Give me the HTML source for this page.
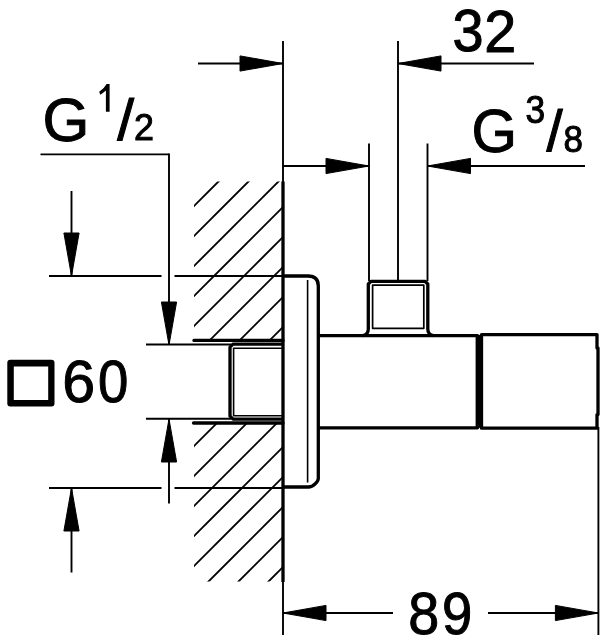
<!DOCTYPE html>
<html><head><meta charset="utf-8"><style>
html,body{margin:0;padding:0;background:#fff;width:610px;height:640px;overflow:hidden}
svg{display:block;will-change:transform}
text{font-family:"Liberation Sans",sans-serif;fill:#000}
</style></head><body>
<svg width="610" height="640" viewBox="0 0 610 640" stroke="#000" fill="none">
<line x1="283" y1="41" x2="283" y2="635" stroke-width="1.9" stroke-linecap="butt"/>
<line x1="283" y1="181.5" x2="283" y2="582" stroke-width="3.3" stroke-linecap="butt"/>
<line x1="398" y1="41" x2="398" y2="281" stroke-width="1.9" stroke-linecap="butt"/>
<line x1="198" y1="63.5" x2="283" y2="63.5" stroke-width="1.9" stroke-linecap="butt"/>
<polygon points="283,63.5 240,55.9 240,71.1" fill="#000" stroke="#000" stroke-width="1" stroke-linejoin="round"/>
<line x1="398" y1="63.5" x2="534" y2="63.5" stroke-width="1.9" stroke-linecap="butt"/>
<polygon points="398,63.5 441,55.9 441,71.1" fill="#000" stroke="#000" stroke-width="1" stroke-linejoin="round"/>
<line x1="369" y1="143.5" x2="369" y2="281" stroke-width="1.9" stroke-linecap="butt"/>
<line x1="427.5" y1="143.5" x2="427.5" y2="281" stroke-width="1.9" stroke-linecap="butt"/>
<line x1="283" y1="166" x2="369" y2="166" stroke-width="1.9" stroke-linecap="butt"/>
<polygon points="369,166 326,158.4 326,173.6" fill="#000" stroke="#000" stroke-width="1" stroke-linejoin="round"/>
<line x1="427.5" y1="166" x2="585" y2="166" stroke-width="1.9" stroke-linecap="butt"/>
<polygon points="427.5,166 470.5,158.4 470.5,173.6" fill="#000" stroke="#000" stroke-width="1" stroke-linejoin="round"/>
<line x1="40.5" y1="154.4" x2="169" y2="154.4" stroke-width="1.9" stroke-linecap="butt"/>
<line x1="169" y1="153.5" x2="169" y2="345" stroke-width="1.9" stroke-linecap="butt"/>
<polygon points="169,345 161.4,302 176.6,302" fill="#000" stroke="#000" stroke-width="1" stroke-linejoin="round"/>
<line x1="49" y1="276" x2="161.5" y2="276" stroke-width="1.9" stroke-linecap="butt"/>
<line x1="174.5" y1="276" x2="283" y2="276" stroke-width="1.9" stroke-linecap="butt"/>
<line x1="71.5" y1="191" x2="71.5" y2="276" stroke-width="1.9" stroke-linecap="butt"/>
<polygon points="71.5,276 63.9,233 79.1,233" fill="#000" stroke="#000" stroke-width="1" stroke-linejoin="round"/>
<line x1="146" y1="344.5" x2="231" y2="344.5" stroke-width="1.9" stroke-linecap="butt"/>
<line x1="146" y1="418.8" x2="231" y2="418.8" stroke-width="1.9" stroke-linecap="butt"/>
<line x1="169" y1="419" x2="169" y2="503.5" stroke-width="1.9" stroke-linecap="butt"/>
<polygon points="169,419 161.4,462 176.6,462" fill="#000" stroke="#000" stroke-width="1" stroke-linejoin="round"/>
<line x1="49" y1="488" x2="161.5" y2="488" stroke-width="1.9" stroke-linecap="butt"/>
<line x1="174.5" y1="488" x2="283" y2="488" stroke-width="1.9" stroke-linecap="butt"/>
<line x1="71.5" y1="488" x2="71.5" y2="572.5" stroke-width="1.9" stroke-linecap="butt"/>
<polygon points="71.5,488 63.9,531 79.1,531" fill="#000" stroke="#000" stroke-width="1" stroke-linejoin="round"/>
<line x1="598.4" y1="427" x2="598.4" y2="635" stroke-width="1.9" stroke-linecap="butt"/>
<line x1="283" y1="613" x2="393" y2="613" stroke-width="1.9" stroke-linecap="butt"/>
<polygon points="283,613 326,605.4 326,620.6" fill="#000" stroke="#000" stroke-width="1" stroke-linejoin="round"/>
<line x1="488" y1="613" x2="598.4" y2="613" stroke-width="1.9" stroke-linecap="butt"/>
<polygon points="598.4,613 555.4,605.4 555.4,620.6" fill="#000" stroke="#000" stroke-width="1" stroke-linejoin="round"/>
<defs><clipPath id="hc"><path d="M194,181.5 H283 V340.4 H194 Z M194,423 H283 V581.5 H194 Z"/></clipPath></defs>
<g clip-path="url(#hc)" stroke-width="1.9"><line x1="-300" y1="700" x2="400" y2="0"/><line x1="-270" y1="700" x2="430" y2="0"/><line x1="-240" y1="700" x2="460" y2="0"/><line x1="-210" y1="700" x2="490" y2="0"/><line x1="-180" y1="700" x2="520" y2="0"/><line x1="-150" y1="700" x2="550" y2="0"/><line x1="-120" y1="700" x2="580" y2="0"/><line x1="-90" y1="700" x2="610" y2="0"/><line x1="-60" y1="700" x2="640" y2="0"/><line x1="-30" y1="700" x2="670" y2="0"/><line x1="0" y1="700" x2="700" y2="0"/><line x1="30" y1="700" x2="730" y2="0"/><line x1="60" y1="700" x2="760" y2="0"/><line x1="90" y1="700" x2="790" y2="0"/><line x1="120" y1="700" x2="820" y2="0"/><line x1="150" y1="700" x2="850" y2="0"/></g>
<line x1="194" y1="340.4" x2="283" y2="340.4" stroke-width="3.3" stroke-linecap="round"/>
<line x1="193.5" y1="423" x2="283" y2="423" stroke-width="3.3" stroke-linecap="round"/>
<path d="M283,344.2 H233 L230,347.2 V416.2 L233,419.2 H283" fill="none" stroke-width="3.3" stroke-linejoin="round"/>
<path d="M283,348.2 H233.6 V415.7 H283" fill="none" stroke-width="1.6" stroke-linejoin="round"/>
<path d="M283,276 H308 Q318.3,276 318.3,286 V478.5 Q318.3,481 315,484 Q312,487 308.5,487 H283" fill="none" stroke-width="3.3" stroke-linejoin="round"/>
<line x1="307.6" y1="280" x2="307.6" y2="482.5" stroke-width="1.6" stroke-linecap="butt"/>
<path d="M318.3,335.6 H477.5 V427.8 H318.3" fill="none" stroke-width="3.3" stroke-linejoin="round"/>
<path d="M362.5,335.6 Q368.3,335 368.3,329 V284 L371,281.3 H425 L427.8,284 V329 Q427.8,335 433.6,335.6" fill="none" stroke-width="3.3" stroke-linejoin="round"/>
<path d="M372.6,285.2 H423.8 V328.3 H372.6 Z" fill="none" stroke-width="1.7" stroke-linejoin="round"/>
<path d="M481.5,334.6 H597 V348 H598 V414.6 H597 V428.2 H481.5 Z" fill="none" stroke-width="3.3" stroke-linejoin="round"/>
<line x1="479.3" y1="335" x2="479.3" y2="427.8" stroke-width="7.2" stroke-linecap="butt"/>
<path fill-rule="evenodd" fill="#000" stroke="none" d="M10.3,359.8 H51.5 Q54.5,359.8 54.5,362.8 V403.6 Q54.5,406.6 51.5,406.6 H10.3 Q7.3,406.6 7.3,403.6 V362.8 Q7.3,359.8 10.3,359.8 Z M13.8,366.5 V400 H48.2 V366.5 Z"/>
<text transform="translate(452.46,51.42) scale(0.957,1)" font-size="58.45">3</text>
<text transform="translate(484.32,51.5) scale(0.983,1)" font-size="58.57">2</text>
<text transform="translate(42.5,140.5) scale(0.975,1)" font-size="61.8">G</text>
<path d="M106.6,84.1 L109.6,84.1 L109.6,111.8 L105.9,111.8 L105.9,90.6 Q103.2,93 100.3,94.8 L99.2,91.8 Q104,89 106.6,84.1 Z" fill="#000" stroke="none"/>
<text transform="translate(117.2,140.1) scale(1.06,1)" font-size="57.2">/</text>
<text transform="translate(133.9,139.9) scale(0.97,1)" font-size="37.0">2</text>
<text transform="translate(471.5,151.6) scale(0.962,1)" font-size="60.8">G</text>
<text transform="translate(525.5,123.0) scale(0.923,1)" font-size="38.3">3</text>
<text transform="translate(546.5,150.93) scale(1.023,1)" font-size="56.87">/</text>
<text transform="translate(563.4,151.62) scale(0.93,1)" font-size="37.61">8</text>
<text transform="translate(62.34,402.0) scale(0.992,1)" font-size="59.58">6</text>
<text transform="translate(97.92,402.0) scale(0.915,1)" font-size="59.58">0</text>
<text transform="translate(408.19,633.71) scale(0.938,1)" font-size="59.44">8</text>
<text transform="translate(441.95,633.71) scale(0.915,1)" font-size="59.44">9</text>
</svg>
</body></html>
